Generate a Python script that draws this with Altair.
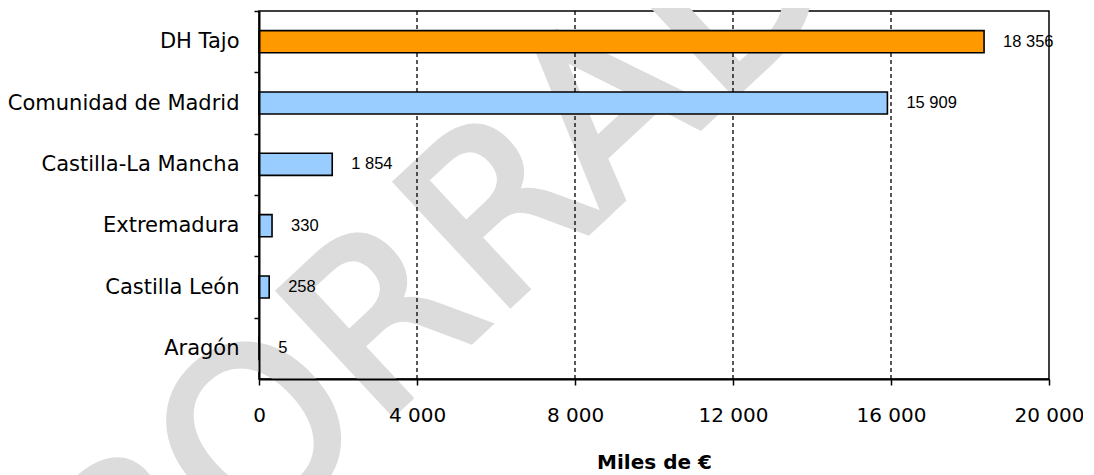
import altair as alt
import pandas as pd

# ---- data ----
categories = ["DH Tajo", "Comunidad de Madrid", "Castilla-La Mancha",
              "Extremadura", "Castilla León", "Aragón"]
values = [18356, 15909, 1854, 330, 258, 5]
kinds = ["Demarcación", "Comunidad", "Comunidad", "Comunidad", "Comunidad", "Comunidad"]
x_ticks = [0, 4000, 8000, 12000, 16000, 20000]
grid_values = [4000, 8000, 12000, 16000]
watermark = ["BORRADOR"]

df = pd.DataFrame({"region": categories, "valor": values, "tipo": kinds})
grid_df = pd.DataFrame({"valor": grid_values})
wm_df = pd.DataFrame({"t": watermark})

W, H = 790, 368
P_IN, P_OUT = 0.64, 0.32
step = H / (len(categories) - P_IN + 2 * P_OUT)
half_gap = P_OUT * step
fmt = "replace(format(datum.value, ','), ',', ' ')"

x_scale = alt.Scale(domain=[0, 20000], nice=False, zero=True)
y_scale = alt.Scale(domain=categories, paddingInner=P_IN, paddingOuter=P_OUT)

wm = alt.Chart(wm_df).mark_text(
    font="DejaVu Sans", fontSize=230, color="#dcdcdc", angle=317,
    stroke="#dcdcdc", strokeWidth=6,
    align="center", baseline="alphabetic"
).encode(text="t:N", x=alt.value(356), y=alt.value(196))

grid = alt.Chart(grid_df).mark_rule(
    color="black", strokeDash=[4, 3], strokeWidth=1.3
).encode(x=alt.X("valor:Q", scale=x_scale))

bars = alt.Chart(df).mark_bar(stroke="black", strokeWidth=1.6).encode(
    x=alt.X("valor:Q", scale=x_scale,
            axis=alt.Axis(values=x_ticks, title="Miles de €", labelExpr=fmt,
                          grid=False, tickSize=6, labelPadding=20,
                          titleFont="DejaVu Sans", titleFontWeight="bold",
                          titleFontSize=20, titlePadding=27, titleColor="black",
                          labelFlush=False, zindex=1)),
    y=alt.Y("region:N", scale=y_scale, sort=categories,
            axis=alt.Axis(title=None, bandPosition=0, tickOffset=-half_gap,
                          labelOffset=half_gap, tickSize=5, labelPadding=15,
                          labelLimit=0, labelFontSize=21, grid=False, zindex=1)),
    color=alt.Color("tipo:N",
                    scale=alt.Scale(domain=["Demarcación", "Comunidad"],
                                    range=["#FF9900", "#99CCFF"]),
                    legend=None),
)

labels = alt.Chart(df).transform_calculate(
    lbl="replace(format(datum.valor, ','), ',', ' ')"
).mark_text(
    align="left", baseline="middle", dx=19,
    font="Liberation Sans", fontSize=16.5, color="black"
).encode(x=alt.X("valor:Q", scale=x_scale),
         y=alt.Y("region:N", scale=y_scale, sort=categories),
         text="lbl:N")

chart = alt.layer(wm, grid, bars, labels).properties(
    width=W, height=H,
    autosize=alt.AutoSizeParams(type="none"),
    padding={"left": 251, "top": 3, "right": 34, "bottom": 96},
).configure_view(
    stroke="black", strokeWidth=1.5
).configure_axis(
    domainColor="black", domainWidth=2, tickColor="black", tickWidth=1.5,
    labelFont="DejaVu Sans", labelFontSize=20, labelColor="black",
)

chart.save("out.html", embed_options={"renderer": "svg", "actions": False})
